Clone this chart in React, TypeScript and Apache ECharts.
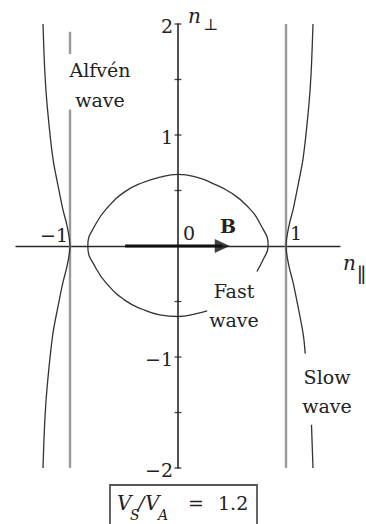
import React, { useEffect, useRef } from "react";
import * as echarts from "echarts";

// ---- data ----
const xRange = [-1.5, 1.5];
const yRange = [-2, 2];
const yTickValues = [-2, -1.5, -1, -0.5, 0.5, 1, 1.5, 2];
const yTickLabels = ["−2", "", "−1", "", "", "1", "", "2"];
const xTickLabels = ["−1", "1"];

// Alfvén wave: vertical lines n_par = ±1
const alfvenLeftTop: number[][] = [[-1, 1.93], [-1, 1.73]];
const alfvenLeftBottom: number[][] = [[-1, 1.23], [-1, -2]];
const alfvenRight: number[][] = [[1, 2], [1, -2]];

// Slow wave branches [n_par, n_perp]
const slowLeft: number[][] = [
  [-1.25, 2.0], [-1.232, 1.55], [-1.21, 1.25], [-1.16, 0.8], [-1.11, 0.54],
  [-1.066, 0.33], [-1.027, 0.18], [-1.0, 0], [-1.027, -0.18], [-1.066, -0.33],
  [-1.11, -0.54], [-1.16, -0.8], [-1.21, -1.25], [-1.232, -1.55], [-1.25, -2.0],
];
const slowRightA: number[][] = [
  [1.25, 2.0], [1.232, 1.55], [1.21, 1.25], [1.16, 0.8], [1.11, 0.54],
  [1.066, 0.33], [1.027, 0.18], [1.0, 0], [1.027, -0.18], [1.066, -0.33],
  [1.11, -0.54], [1.16, -0.8], [1.178, -0.97],
];
const slowRightB: number[][] = [[1.236, -1.61], [1.25, -2.0]];

// Fast wave loop (gap at lower right for its label)
const fastWave: number[][] = [
  [0.27, -0.585], [0.17, -0.61], [0, -0.635], [-0.17, -0.62], [-0.33, -0.57],
  [-0.49, -0.49], [-0.64, -0.36], [-0.76, -0.2], [-0.835, 0], [-0.76, 0.2],
  [-0.64, 0.36], [-0.49, 0.49], [-0.33, 0.57], [-0.17, 0.62], [0, 0.645],
  [0.17, 0.62], [0.33, 0.56], [0.49, 0.48], [0.64, 0.36], [0.76, 0.2],
  [0.835, 0], [0.79, -0.12], [0.73, -0.23],
];

// B field arrow
const bShaft: number[][] = [[-0.49, 0], [0.41, 0]];
const bHead: number[][] = [[0.41, 0]];

const FONT = '"DejaVu Serif", "Liberation Serif", serif';

export default function App() {
  const ref = useRef<HTMLDivElement>(null);
  useEffect(() => {
    document.body.style.margin = "0";
    if (!ref.current) return;
    const chart = echarts.init(ref.current, undefined, { renderer: "svg" });
    const curve = (data: number[][], smooth: number | boolean = 0.35) => ({
      type: "line",
      data,
      smooth,
      symbol: "none",
      lineStyle: { color: "#333", width: 1.3 },
      silent: true,
    });
    const alfven = (data: number[][]) => ({
      type: "line",
      data,
      symbol: "none",
      lineStyle: { color: "#9a9a9a", width: 2.4 },
      silent: true,
    });
    const txt = (
      text: string,
      x: number,
      y: number,
      opts: { size?: number; style?: string; weight?: string; align?: string } = {}
    ) => ({
      type: "text",
      x,
      y,
      silent: true,
      z: 10,
      style: {
        text,
        font: `${opts.style || "normal"} ${opts.weight || "normal"} ${opts.size || 19}px ${FONT}`,
        fill: "#222",
        align: opts.align || "center",
        verticalAlign: "middle",
      },
    });

    chart.setOption({
      animation: false,
      backgroundColor: "#fff",
      grid: {
        left: 16,
        top: 24,
        width: 324,
        height: 444,
        containLabel: false,
        outerBoundsMode: "none",
      },
      xAxis: {
        type: "value",
        min: xRange[0],
        max: xRange[1],
        axisLine: { onZero: true, lineStyle: { color: "#2a2a2a", width: 1.3 } },
        axisTick: { show: false },
        axisLabel: { show: false },
        splitLine: { show: false },
      },
      yAxis: {
        type: "value",
        min: yRange[0],
        max: yRange[1],
        interval: 0.5,
        axisLine: { onZero: true, lineStyle: { color: "#1a1a1a", width: 1.5 } },
        axisTick: { show: false },
        axisLabel: { show: false },
        splitLine: { show: false },
      },
      series: [
        alfven(alfvenLeftTop),
        alfven(alfvenLeftBottom),
        alfven(alfvenRight),
        curve(slowLeft),
        curve(slowRightA),
        curve(slowRightB, false),
        curve(fastWave, 0.5),
        {
          type: "line",
          data: bShaft,
          symbol: "none",
          lineStyle: { color: "#111", width: 3.2 },
          silent: true,
          z: 5,
        },
        {
          type: "scatter",
          data: bHead,
          symbol: "path://M0,0 L10,5 L0,10 Z",
          symbolSize: [15, 14],
          itemStyle: { color: "#111" },
          silent: true,
          z: 6,
        },
        {
          type: "scatter",
          data: yTickValues.map((v) => [0, v]),
          symbol: "rect",
          symbolSize: [7, 1.3],
          itemStyle: { color: "#1a1a1a" },
          silent: true,
        },
      ],
    });

    // y tick labels placed through the chart's own scale
    const yLabelGraphics: any[] = [];
    yTickValues.forEach((v, i) => {
      if (!yTickLabels[i]) return;
      const p = chart.convertToPixel({ gridIndex: 0 }, [0, v]) as number[];
      yLabelGraphics.push(txt(yTickLabels[i], p[0] - 5, p[1] + 2, { align: "right" }));
    });

    chart.setOption({
      graphic: [
        ...yLabelGraphics,
        txt("Alfvén", 100, 70),
        txt("wave", 100, 99.5),
        txt("Fast", 234, 290.5),
        txt("wave", 234, 320),
        txt("Slow", 327, 377),
        txt("wave", 327, 405.5),
        txt("0", 189, 233),
        txt("B", 228, 226, { weight: "bold" }),
        txt(xTickLabels[0], 68, 235, { align: "right" }),
        txt(xTickLabels[1], 290, 233, { align: "left" }),
        txt("n", 188, 16, { style: "italic", size: 20, align: "left" }),
        txt("⊥", 203, 24, { size: 16, align: "left" }),
        txt("n", 343, 263, { style: "italic", size: 20, align: "left" }),
        txt("∥", 357, 275, { size: 20, align: "left" }),
        {
          type: "rect",
          shape: { x: 110, y: 485, width: 147, height: 46 },
          style: { fill: "none", stroke: "#555", lineWidth: 1.8 },
          silent: true,
        },
        txt("V", 117, 503, { style: "italic", size: 20, align: "left" }),
        txt("S", 130, 515, { style: "italic", size: 14, align: "left" }),
        txt("/", 138, 503, { style: "italic", size: 19, align: "left" }),
        txt("V", 145, 503, { style: "italic", size: 20, align: "left" }),
        txt("A", 158, 515, { style: "italic", size: 14, align: "left" }),
        txt("=", 188, 503, { size: 19, align: "left" }),
        txt("1.2", 218, 503, { size: 19, align: "left" }),
      ],
    });
    return () => chart.dispose();
  }, []);
  return <div ref={ref} style={{ width: 366, height: 524 }} />;
}
